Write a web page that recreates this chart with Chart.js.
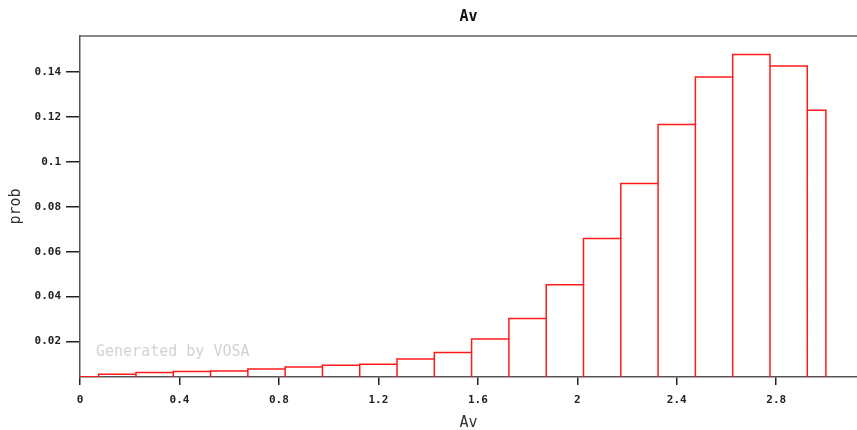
<!DOCTYPE html>
<html><head><meta charset="utf-8">
<script src="https://cdn.jsdelivr.net/npm/chart.js@4/dist/chart.umd.min.js"></script>
<style>html,body{margin:0;padding:0;background:#fff;overflow:hidden}#wrap{width:857px;height:430px;position:relative}</style>
</head><body><div id="wrap"><canvas id="c" width="857" height="430"></canvas></div>
<script>
// ---- data ----
const binCenters = [0, 0.15, 0.3, 0.45, 0.6, 0.75, 0.9, 1.05, 1.2, 1.35, 1.5, 1.65, 1.8, 1.95, 2.1, 2.25, 2.4, 2.55, 2.7, 2.85, 3.0];
const probValues = [0.0043, 0.0054, 0.0062, 0.0066, 0.0069, 0.0078, 0.0087, 0.0094, 0.0099, 0.0122, 0.0151, 0.0211, 0.0302, 0.0453, 0.0658, 0.0903, 0.1166, 0.1377, 0.1478, 0.1426, 0.1229];
const binWidth = 0.15;
const avLimits = [0, 3.0];
const xTickValues = [0, 0.4, 0.8, 1.2, 1.6, 2, 2.4, 2.8];
const yTickValues = [0.02, 0.04, 0.06, 0.08, 0.1, 0.12, 0.14];
const xRange = [0, 3.125];
const yRange = [0.0042, 0.156];
const chartTitle = 'Av';
const xTitle = 'Av';
const yTitle = 'prob';
const watermarkText = 'Generated by VOSA';

// histogram outline built from the bins
const outline = [];
binCenters.forEach((c, i) => {
  const lo = Math.max(c - binWidth / 2, avLimits[0]);
  const hi = Math.min(c + binWidth / 2, avLimits[1]);
  const v = probValues[i];
  outline.push({x: lo, y: yRange[0]}, {x: lo, y: v}, {x: hi, y: v}, {x: hi, y: yRange[0]}, {x: hi, y: null});
});

const fmt = v => String(Math.round(v * 1000) / 1000);
const tickFont = {family: 'DejaVu Sans Mono', size: 11, weight: 'bold'};

const watermark = {
  id: 'watermark',
  beforeDatasetsDraw(chart) {
    const {ctx, chartArea} = chart;
    ctx.save();
    ctx.font = '15px "DejaVu Sans Mono"';
    ctx.fillStyle = '#d2d2d2';
    ctx.textBaseline = 'middle';
    ctx.textAlign = 'left';
    ctx.fillText(watermarkText, chartArea.left + 16, chartArea.bottom - 25);
    ctx.restore();
  }
};

new Chart(document.getElementById('c'), {
  type: 'line',
  data: {
    datasets: [{
      data: outline,
      borderColor: '#ff1a1a',
      borderWidth: 1.5,
      pointRadius: 0,
      fill: false,
      tension: 0,
      spanGaps: false
    }]
  },
  options: {
    responsive: false,
    devicePixelRatio: 1,
    animation: false,
    layout: {padding: 0},
    plugins: {
      legend: {display: false},
      tooltip: {enabled: false},
      title: {
        display: true, text: chartTitle, fullSize: false,
        font: {family: 'DejaVu Sans Mono', size: 15, weight: 'bold'},
        color: '#111',
        padding: {top: 8, bottom: 10}
      }
    },
    scales: {
      x: {
        type: 'linear', position: 'bottom', min: xRange[0], max: xRange[1],
        afterBuildTicks: s => { s.ticks = xTickValues.map(v => ({value: v})); },
        afterFit: s => { s.height = 53; },
        grid: {display: true, drawOnChartArea: false, drawTicks: true, tickLength: 8, color: '#222', lineWidth: 1.5},
        border: {display: true, color: '#555', width: 1.5},
        ticks: {font: tickFont, color: '#222', padding: 9, maxRotation: 0, autoSkip: false, callback: v => fmt(v)},
        title: {display: true, text: xTitle, font: {family: 'DejaVu Sans Mono', size: 15}, color: '#333', padding: {top: 0, bottom: -2}}
      },
      xTop: {
        type: 'linear', position: 'top', min: xRange[0], max: xRange[1],
        afterFit: s => { s.height = 0; },
        grid: {display: false, drawTicks: false},
        border: {display: true, color: '#8a8a8a', width: 2},
        ticks: {display: false}
      },
      y: {
        type: 'linear', position: 'left', min: yRange[0], max: yRange[1],
        afterBuildTicks: s => { s.ticks = yTickValues.map(v => ({value: v})); },
        afterFit: s => { s.width = 80; },
        grid: {display: true, drawOnChartArea: false, drawTicks: true, tickLength: 14, color: '#222', lineWidth: 1.5},
        border: {display: true, color: '#555', width: 1.5},
        ticks: {font: tickFont, color: '#222', padding: 5, autoSkip: false, callback: v => fmt(v)},
        title: {display: true, text: yTitle, font: {family: 'DejaVu Sans Mono', size: 15}, color: '#333', padding: {top: 7, bottom: 0}}
      }
    }
  },
  plugins: [watermark]
});
</script>
</body></html>
